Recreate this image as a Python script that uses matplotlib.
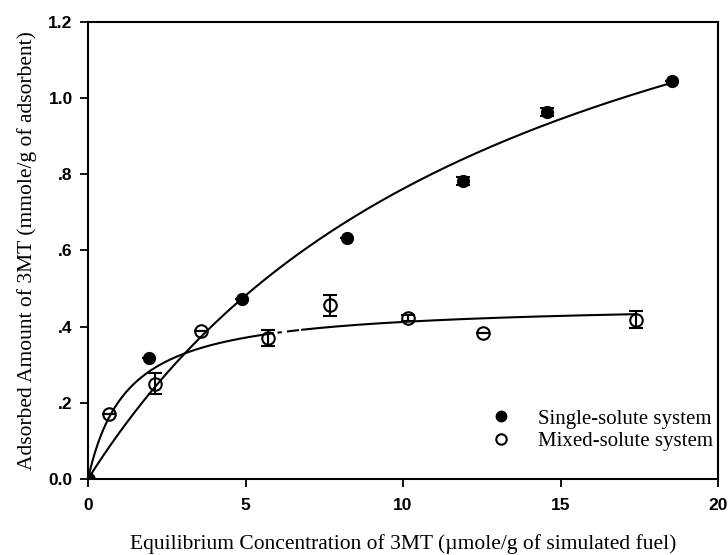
import numpy as np
import matplotlib
matplotlib.use("Agg")
import matplotlib.pyplot as plt
from matplotlib.lines import Line2D

# ---- data ----
single_x = [0.0, 1.94, 4.89, 8.22, 11.9, 14.57, 18.55]
single_y = [0.0, 0.318, 0.473, 0.633, 0.783, 0.964, 1.045]
single_err = [0.0, 0.0, 0.0, 0.0, 0.010, 0.010, 0.0]

mixed_x = [0.0, 0.67, 2.13, 3.59, 5.70, 7.68, 10.16, 12.54, 17.40]
mixed_y = [0.0, 0.171, 0.250, 0.389, 0.370, 0.456, 0.423, 0.383, 0.418]
mixed_err = [0.0, 0.0, 0.028, 0.0, 0.020, 0.028, 0.008, 0.0, 0.022]

# fitted Langmuir parameters (q = qm*K*C/(1+K*C))
single_qm, single_K = 1.82, 0.072
mixed_qm, mixed_K = 0.464, 0.80

# pieces of the mixed-solute fit line as drawn (broken near x≈6)
mixed_pieces = [(0.0, 5.87), (6.05, 6.12), (6.35, 6.67), (6.80, 17.40)]

x_ticks = [0, 5, 10, 15, 20]
y_ticks = [0.0, 0.2, 0.4, 0.6, 0.8, 1.0, 1.2]
y_tick_labels = ["0.0", ".2", ".4", ".6", ".8", "1.0", "1.2"]

xlabel = "Equilibrium Concentration of 3MT (\u00b5mole/g of simulated fuel)"
ylabel = "Adsorbed Amount of 3MT (mmole/g of adsorbent)"
legend_labels = ["Single-solute system", "Mixed-solute system"]


def langmuir(c, qm, k):
    c = np.asarray(c, dtype=float)
    return qm * k * c / (1.0 + k * c)


fig = plt.figure(figsize=(7.28, 5.55), dpi=100)
ax = fig.add_axes([88 / 728, 1 - 479 / 555, 630 / 728, 457 / 555])

serif = ["Liberation Serif", "DejaVu Serif"]
sans = ["Liberation Sans", "DejaVu Sans"]

# fit curves
cs = np.linspace(0, single_x[-1], 300)
ax.plot(cs, langmuir(cs, single_qm, single_K), color="black", lw=1.5, zorder=2)
for a, b in mixed_pieces:
    cm = np.linspace(a, b, 200)
    ax.plot(cm, langmuir(cm, mixed_qm, mixed_K), color="black", lw=1.5, zorder=2)

# data points with error bars
ax.errorbar(single_x, single_y, yerr=single_err, fmt="o", color="black",
            markersize=8.5, capsize=5, elinewidth=1.5, capthick=1.5, zorder=3)
ax.errorbar(mixed_x, mixed_y, yerr=mixed_err, fmt="o", mfc="none", mec="black",
            mew=1.5, color="black", markersize=9, capsize=5, elinewidth=1.5,
            capthick=1.5, zorder=3)

ax.set_xlim(0, 20)
ax.set_ylim(0, 1.2)
ax.set_xticks(x_ticks)
ax.set_xticklabels([str(t) for t in x_ticks], family=sans, fontsize=12.5)
ax.set_yticks(y_ticks)
ax.set_yticklabels(y_tick_labels, family=sans, fontsize=12.5)
ax.tick_params(direction="out", length=6, width=1.3, pad=5)
ax.tick_params(axis="x", pad=8)
for s in ax.spines.values():
    s.set_linewidth(1.5)
for lab in ax.get_xticklabels() + ax.get_yticklabels():
    lab.set_fontweight("bold")

ax.set_xlabel(xlabel, family=serif, fontsize=15.5, labelpad=15)
ax.set_ylabel(ylabel, family=serif, fontsize=15.5, labelpad=8)

handles = [
    Line2D([], [], marker="o", ls="none", color="black", markersize=7.5),
    Line2D([], [], marker="o", ls="none", mfc="none", mec="black", mew=1.5, markersize=7.5),
]
ax.legend(handles, legend_labels, loc="lower right", bbox_to_anchor=(1.012, 0.033),
          frameon=False, prop={"family": serif, "size": 15}, handletextpad=1.05,
          borderaxespad=0.2, labelspacing=0.15, handlelength=1.5)

fig.savefig("out.png", dpi=100)
